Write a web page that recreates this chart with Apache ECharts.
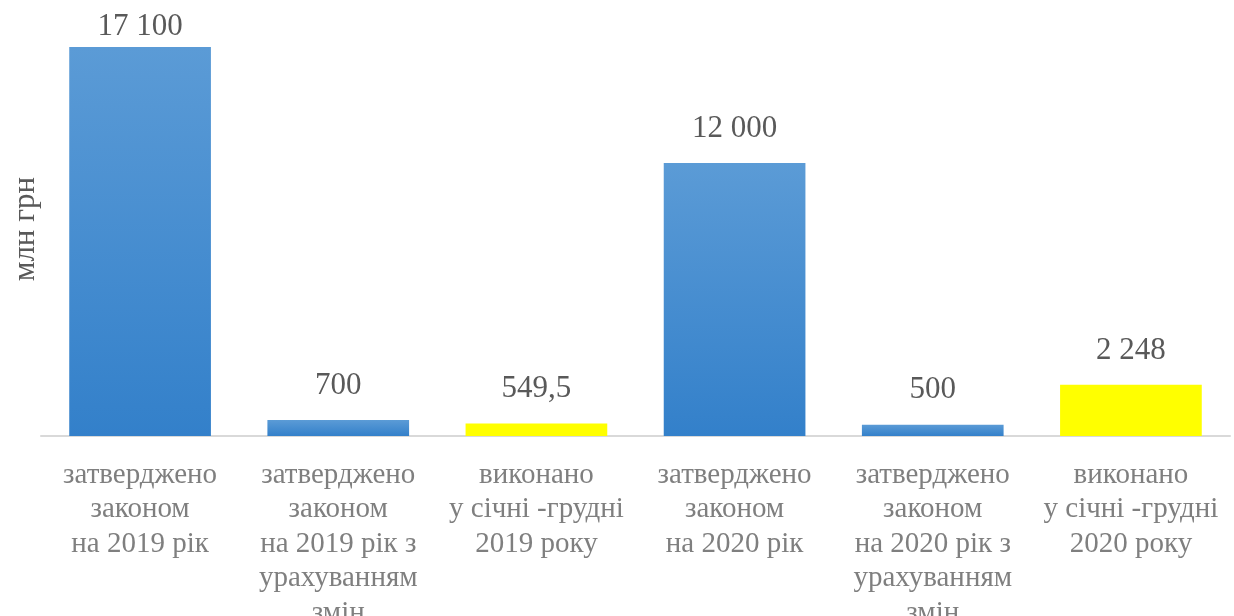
<!DOCTYPE html>
<html>
<head>
<meta charset="utf-8">
<script src="https://cdn.jsdelivr.net/npm/echarts@6/dist/echarts.min.js"></script>
<style>
html,body{margin:0;padding:0;background:#fff;}
#chart{width:1234px;height:616px;}
</style>
</head>
<body>
<div id="chart"></div>
<script>
const categories = [
  'затверджено\nзаконом\nна 2019 рік',
  'затверджено\nзаконом\nна 2019 рік з\nурахуванням\nзмін',
  'виконано\nу січні -грудні\n2019 року',
  'затверджено\nзаконом\nна 2020 рік',
  'затверджено\nзаконом\nна 2020 рік з\nурахуванням\nзмін',
  'виконано\nу січні -грудні\n2020 року'
];
const values = [17100, 700, 549.5, 12000, 500, 2248];
const barKinds = ['plan', 'plan', 'actual', 'plan', 'plan', 'actual'];
const yAxisTitle = 'млн грн';

function fmt(v) {
  const parts = String(v).split('.');
  const intPart = parts[0].replace(/\B(?=(\d{3})+(?!\d))/g, ' ');
  return parts.length > 1 ? intPart + ',' + parts[1] : intPart;
}

const blueGrad = new echarts.graphic.LinearGradient(0, 0, 0, 1, [
  { offset: 0, color: '#5b9bd6' },
  { offset: 1, color: '#3380ca' }
]);
const yellow = '#ffff00';
const maxVal = Math.max(...values);

const chart = echarts.init(document.getElementById('chart'), null, { renderer: 'canvas' });
chart.setOption({
  animation: false,
  backgroundColor: '#ffffff',
  grid: { left: 41, right: 4, top: 47, bottom: 180, containLabel: false, outerBoundsMode: 'none' },
  xAxis: {
    type: 'category',
    data: categories,
    axisLine: { show: true, lineStyle: { color: '#d9d9d9', width: 2 } },
    axisTick: { show: false },
    axisLabel: {
      interval: 0,
      margin: 22,
      fontFamily: 'Liberation Serif',
      fontSize: 29,
      lineHeight: 34.5,
      color: '#7f7f7f'
    }
  },
  yAxis: {
    type: 'value',
    min: 0,
    max: maxVal,
    show: false,
    splitLine: { show: false }
  },
  graphic: [{
    type: 'text',
    left: 10,
    top: 177,
    rotation: Math.PI / 2,
    style: {
      text: yAxisTitle,
      fontFamily: 'Liberation Serif',
      fontSize: 31,
      fill: '#595959'
    }
  }],
  series: [{
    type: 'bar',
    barWidth: '71.5%',
    data: values.map((v, i) => ({
      value: v,
      itemStyle: { color: barKinds[i] === 'actual' ? yellow : blueGrad },
      label: { distance: v === maxVal ? 5 : 19 }
    })),
    label: {
      show: true,
      position: 'top',
      fontFamily: 'Liberation Serif',
      fontSize: 31,
      color: '#595959',
      formatter: p => fmt(p.value)
    }
  }]
});
</script>
</body>
</html>
